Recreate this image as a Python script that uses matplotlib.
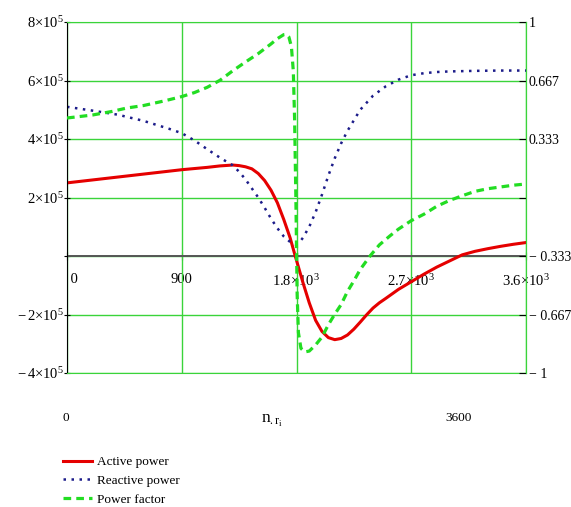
import matplotlib.pyplot as plt
import numpy as np

plt.rcParams['font.family'] = ['Liberation Serif', 'DejaVu Serif']
plt.rcParams['mathtext.fontset'] = 'custom'
plt.rcParams['mathtext.rm'] = 'Liberation Serif'
plt.rcParams['mathtext.it'] = 'Liberation Serif:italic'
plt.rcParams['font.size'] = 10.5

# rotor speed n_r (rpm) and the three curves
n_active = [0, 300, 600, 900, 1100, 1200, 1300, 1350, 1400, 1450, 1500, 1550,
            1600, 1650, 1700, 1750, 1790, 1800, 1850, 1900, 1950, 2000, 2050,
            2100, 2150, 2200, 2250, 2300, 2350, 2400, 2450, 2500, 2600, 2700,
            2800, 2900, 3000, 3100, 3200, 3300, 3400, 3500, 3600]
p_active = [250, 265, 280, 295, 303, 308, 311, 309, 305, 298, 282, 258,
            225, 182, 125, 62, 0, -15, -90, -160, -220, -258, -279,
            -286, -282, -270, -250, -226, -201, -178, -160, -145, -114, -88,
            -62, -38, -17, 4, 16, 25, 33, 40, 46]

n_reactive = [0, 200, 400, 600, 800, 900, 1000, 1100, 1200, 1300, 1350, 1400,
              1450, 1500, 1550, 1600, 1650, 1700, 1750, 1790, 1820, 1850, 1900,
              1950, 2000, 2050, 2100, 2150, 2200, 2300, 2400, 2500, 2600, 2700,
              2800, 2900, 3000, 3200, 3400, 3600]
q_reactive = [510, 497, 483, 462, 435, 420, 395, 365, 336, 310, 288, 262,
              231, 200, 165, 128, 95, 67, 48, 40, 45, 62, 100,
              150, 210, 275, 334, 385, 428, 500, 548, 580, 603, 618,
              625, 629, 631, 633, 634, 634]

n_pf = [0, 200, 350, 470, 600, 730, 800, 900, 1000, 1100, 1200, 1300,
        1400, 1500, 1600, 1650, 1700, 1720, 1740, 1760, 1775, 1785, 1795, 1805,
        1815, 1835, 1865, 1900, 1950, 2000, 2050, 2100, 2150, 2200, 2250, 2300,
        2377, 2450, 2534, 2600, 2700, 2800, 2900, 3000, 3100, 3200, 3300, 3400,
        3500, 3600]
power_factor = [0.453, 0.47, 0.49, 0.51, 0.524, 0.545, 0.557, 0.575, 0.598, 0.628,
                0.668, 0.722, 0.772, 0.82, 0.875, 0.905, 0.928, 0.93, 0.915,
                0.86, 0.72, 0.45, 0.0, -0.55, -0.77, -0.86, -0.88, -0.875, -0.84,
                -0.795, -0.725, -0.665, -0.61, -0.535, -0.475, -0.41, -0.333,
                -0.27, -0.218, -0.18, -0.132, -0.095, -0.05, -0.017, 0.01, 0.035,
                0.05, 0.06, 0.07, 0.077]

x_ticks = [0, 900, 1800, 2700, 3600]
x_labels = [' 0', '900', r'$1.8{\times}10^{3}$', r'$2.7{\times}10^{3}$', r'$3.6{\times}10^{3}$']
y_ticks = [-4e5, -2e5, 0, 2e5, 4e5, 6e5, 8e5]
y_labels = [r'$-\,4{\times}10^{5}$', r'$-\,2{\times}10^{5}$', '', r'$2{\times}10^{5}$',
            r'$4{\times}10^{5}$', r'$6{\times}10^{5}$', r'$8{\times}10^{5}$']
pf_ticks = [-1, -2 / 3, -1 / 3, 0, 1 / 3, 2 / 3, 1]
pf_labels = ['\u2212 1', '\u2212 0.667', '\u2212 0.333', '', '0.333', '0.667', '1']

grid_green = '#3ad43a'

fig = plt.figure(figsize=(5.71, 5.07), dpi=100)
ax = fig.add_axes([67 / 571, 1 - 373 / 507, 459 / 571, 351 / 507])

l1, = ax.plot(n_active, np.array(p_active) * 1e3, color='#e50000', lw=2.2,
              label='Active power')
l2, = ax.plot(n_reactive, np.array(q_reactive) * 1e3, color='#1c1c8a', lw=1.8,
              dashes=(1, 2.2), label='Reactive power')
ax.set_xlim(0, 3600)
ax.set_ylim(-4e5, 8e5)
ax.set_xticks(x_ticks)
ax.set_yticks(y_ticks, y_labels)
ax.tick_params(axis='x', bottom=False, labelbottom=False)
ax.tick_params(axis='y', direction='inout', length=4, pad=0, color='black')
ax.grid(True, color=grid_green, lw=1)
ax.axhline(0, color='#555555', lw=1.4, zorder=1.8)
for s in ['top', 'bottom', 'right']:
    ax.spines[s].set_color(grid_green)
ax.spines['left'].set_color('black')

# x axis drawn through y = 0 (Mathcad style)
zero_frac = (0 - y_ticks[0]) / (y_ticks[-1] - y_ticks[0])
sec = ax.secondary_xaxis(zero_frac)
sec.set_xticks(x_ticks, x_labels)
sec.spines['bottom'].set_visible(False)
sec.tick_params(direction='inout', length=6, pad=9, color='black')
sec.get_xticklabels()[0].set_ha('left')

ax2 = ax.twinx()
l3, = ax2.plot(n_pf, power_factor, color='#22dd22', lw=2.3, dashes=(2.4, 1.6),
               label='Power factor')
ax2.set_ylim(-1, 1)
ax2.set_yticks(pf_ticks, pf_labels)
ax2.tick_params(axis='y', direction='in', length=5, pad=2, color='black', labelsize=10)
for s in ['top', 'bottom', 'left']:
    ax2.spines[s].set_visible(False)
ax2.spines['right'].set_color(grid_green)

# range labels under the plot
ax.text(-0.009, -0.128, '0', transform=ax.transAxes, ha='left', va='center', fontsize=9.5)
ax.text(0.882, -0.128, '3600', transform=ax.transAxes, ha='right', va='center', fontsize=9.5)
ax.text(0.447, -0.138, r'$\mathrm{n}_{.\mathrm{r}_{\mathrm{i}}}$', transform=ax.transAxes,
        ha='center', va='center', fontsize=12.5)

fig.legend(handles=[l1, l2, l3], loc='upper left', bbox_to_anchor=(63 / 571, 1 - 456 / 507),
           frameon=False, borderpad=0, borderaxespad=0, handlelength=2.2,
           handletextpad=0.35, labelspacing=0.5, fontsize=9.5)

fig.savefig('out.png', dpi=100)
